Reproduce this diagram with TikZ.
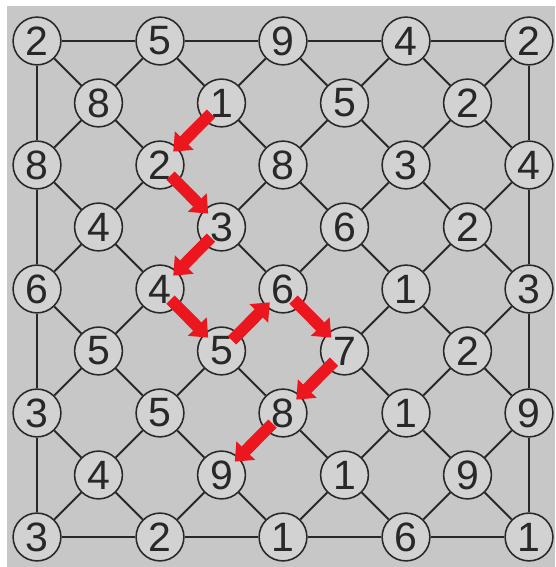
\documentclass[tikz,border=0pt]{standalone}
\usepackage{fontspec}
\setmainfont{Liberation Sans}
\usetikzlibrary{arrows.meta}

\definecolor{paper}{RGB}{199,199,199}
\definecolor{disc}{RGB}{210,210,210}
\definecolor{ink}{RGB}{40,40,40}
\definecolor{hopred}{RGB}{236,22,30}

\tikzset{
  num/.style={circle, draw=ink, line width=0.8pt, fill=disc, minimum size=24.5pt,
    inner sep=0pt, text=ink, font=\fontsize{21}{21}\selectfont},
  wire/.style={draw=ink, line width=1pt},
  hop/.style={draw=hopred, line width=6pt,
    -{Triangle[width=13pt,length=8pt]}, shorten <=-5pt, shorten >=-3pt},
}

\begin{document}
\begin{tikzpicture}[x=1.108cm, y=-1.117cm]
  \useasboundingbox (-0.6016,-0.661) rectangle (8.423,8.484);
  \fill[white] (-0.6016,-0.661) rectangle (8.423,8.484);
  \fill[paper] (-0.488,-0.565) rectangle (8.423,8.484);

  \node[num] (v00) at (0,0) {2};
  \node[num] (v20) at (2,0) {5};
  \node[num] (v40) at (4,0) {9};
  \node[num] (v60) at (6,0) {4};
  \node[num] (v80) at (8,0) {2};
  \node[num] (v11) at (1,1) {8};
  \node[num] (v31) at (3,1) {1};
  \node[num] (v51) at (5,1) {5};
  \node[num] (v71) at (7,1) {2};
  \node[num] (v02) at (0,2) {8};
  \node[num] (v22) at (2,2) {2};
  \node[num] (v42) at (4,2) {8};
  \node[num] (v62) at (6,2) {3};
  \node[num] (v82) at (8,2) {4};
  \node[num] (v13) at (1,3) {4};
  \node[num] (v33) at (3,3) {3};
  \node[num] (v53) at (5,3) {6};
  \node[num] (v73) at (7,3) {2};
  \node[num] (v04) at (0,4) {6};
  \node[num] (v24) at (2,4) {4};
  \node[num] (v44) at (4,4) {6};
  \node[num] (v64) at (6,4) {1};
  \node[num] (v84) at (8,4) {3};
  \node[num] (v15) at (1,5) {5};
  \node[num] (v35) at (3,5) {5};
  \node[num] (v55) at (5,5) {7};
  \node[num] (v75) at (7,5) {2};
  \node[num] (v06) at (0,6) {3};
  \node[num] (v26) at (2,6) {5};
  \node[num] (v46) at (4,6) {8};
  \node[num] (v66) at (6,6) {1};
  \node[num] (v86) at (8,6) {9};
  \node[num] (v17) at (1,7) {4};
  \node[num] (v37) at (3,7) {9};
  \node[num] (v57) at (5,7) {1};
  \node[num] (v77) at (7,7) {9};
  \node[num] (v08) at (0,8) {3};
  \node[num] (v28) at (2,8) {2};
  \node[num] (v48) at (4,8) {1};
  \node[num] (v68) at (6,8) {6};
  \node[num] (v88) at (8,8) {1};

  \draw[wire] (v00) -- (v20) -- (v40) -- (v60) -- (v80);
  \draw[wire] (v08) -- (v28) -- (v48) -- (v68) -- (v88);
  \draw[wire] (v00) -- (v02) -- (v04) -- (v06) -- (v08);
  \draw[wire] (v80) -- (v82) -- (v84) -- (v86) -- (v88);

  \draw[wire] (v60) -- (v71) -- (v82);
  \draw[wire] (v40) -- (v51) -- (v62) -- (v73) -- (v84);
  \draw[wire] (v20) -- (v31) -- (v42) -- (v53) -- (v64) -- (v75) -- (v86);
  \draw[wire] (v00) -- (v11) -- (v22) -- (v33) -- (v44) -- (v55) -- (v66) -- (v77) -- (v88);
  \draw[wire] (v02) -- (v13) -- (v24) -- (v35) -- (v46) -- (v57) -- (v68);
  \draw[wire] (v04) -- (v15) -- (v26) -- (v37) -- (v48);
  \draw[wire] (v06) -- (v17) -- (v28);

  \draw[wire] (v20) -- (v11) -- (v02);
  \draw[wire] (v40) -- (v31) -- (v22) -- (v13) -- (v04);
  \draw[wire] (v60) -- (v51) -- (v42) -- (v33) -- (v24) -- (v15) -- (v06);
  \draw[wire] (v80) -- (v71) -- (v62) -- (v53) -- (v44) -- (v35) -- (v26) -- (v17) -- (v08);
  \draw[wire] (v82) -- (v73) -- (v64) -- (v55) -- (v46) -- (v37) -- (v28);
  \draw[wire] (v84) -- (v75) -- (v66) -- (v57) -- (v48);
  \draw[wire] (v86) -- (v77) -- (v68);

  \draw[hop] (v31) -- (v22);
  \draw[hop] (v22) -- (v33);
  \draw[hop] (v33) -- (v24);
  \draw[hop] (v24) -- (v35);
  \draw[hop] (v35) -- (v44);
  \draw[hop] (v44) -- (v55);
  \draw[hop] (v55) -- (v46);
  \draw[hop] (v46) -- (v37);
\end{tikzpicture}
\end{document}
